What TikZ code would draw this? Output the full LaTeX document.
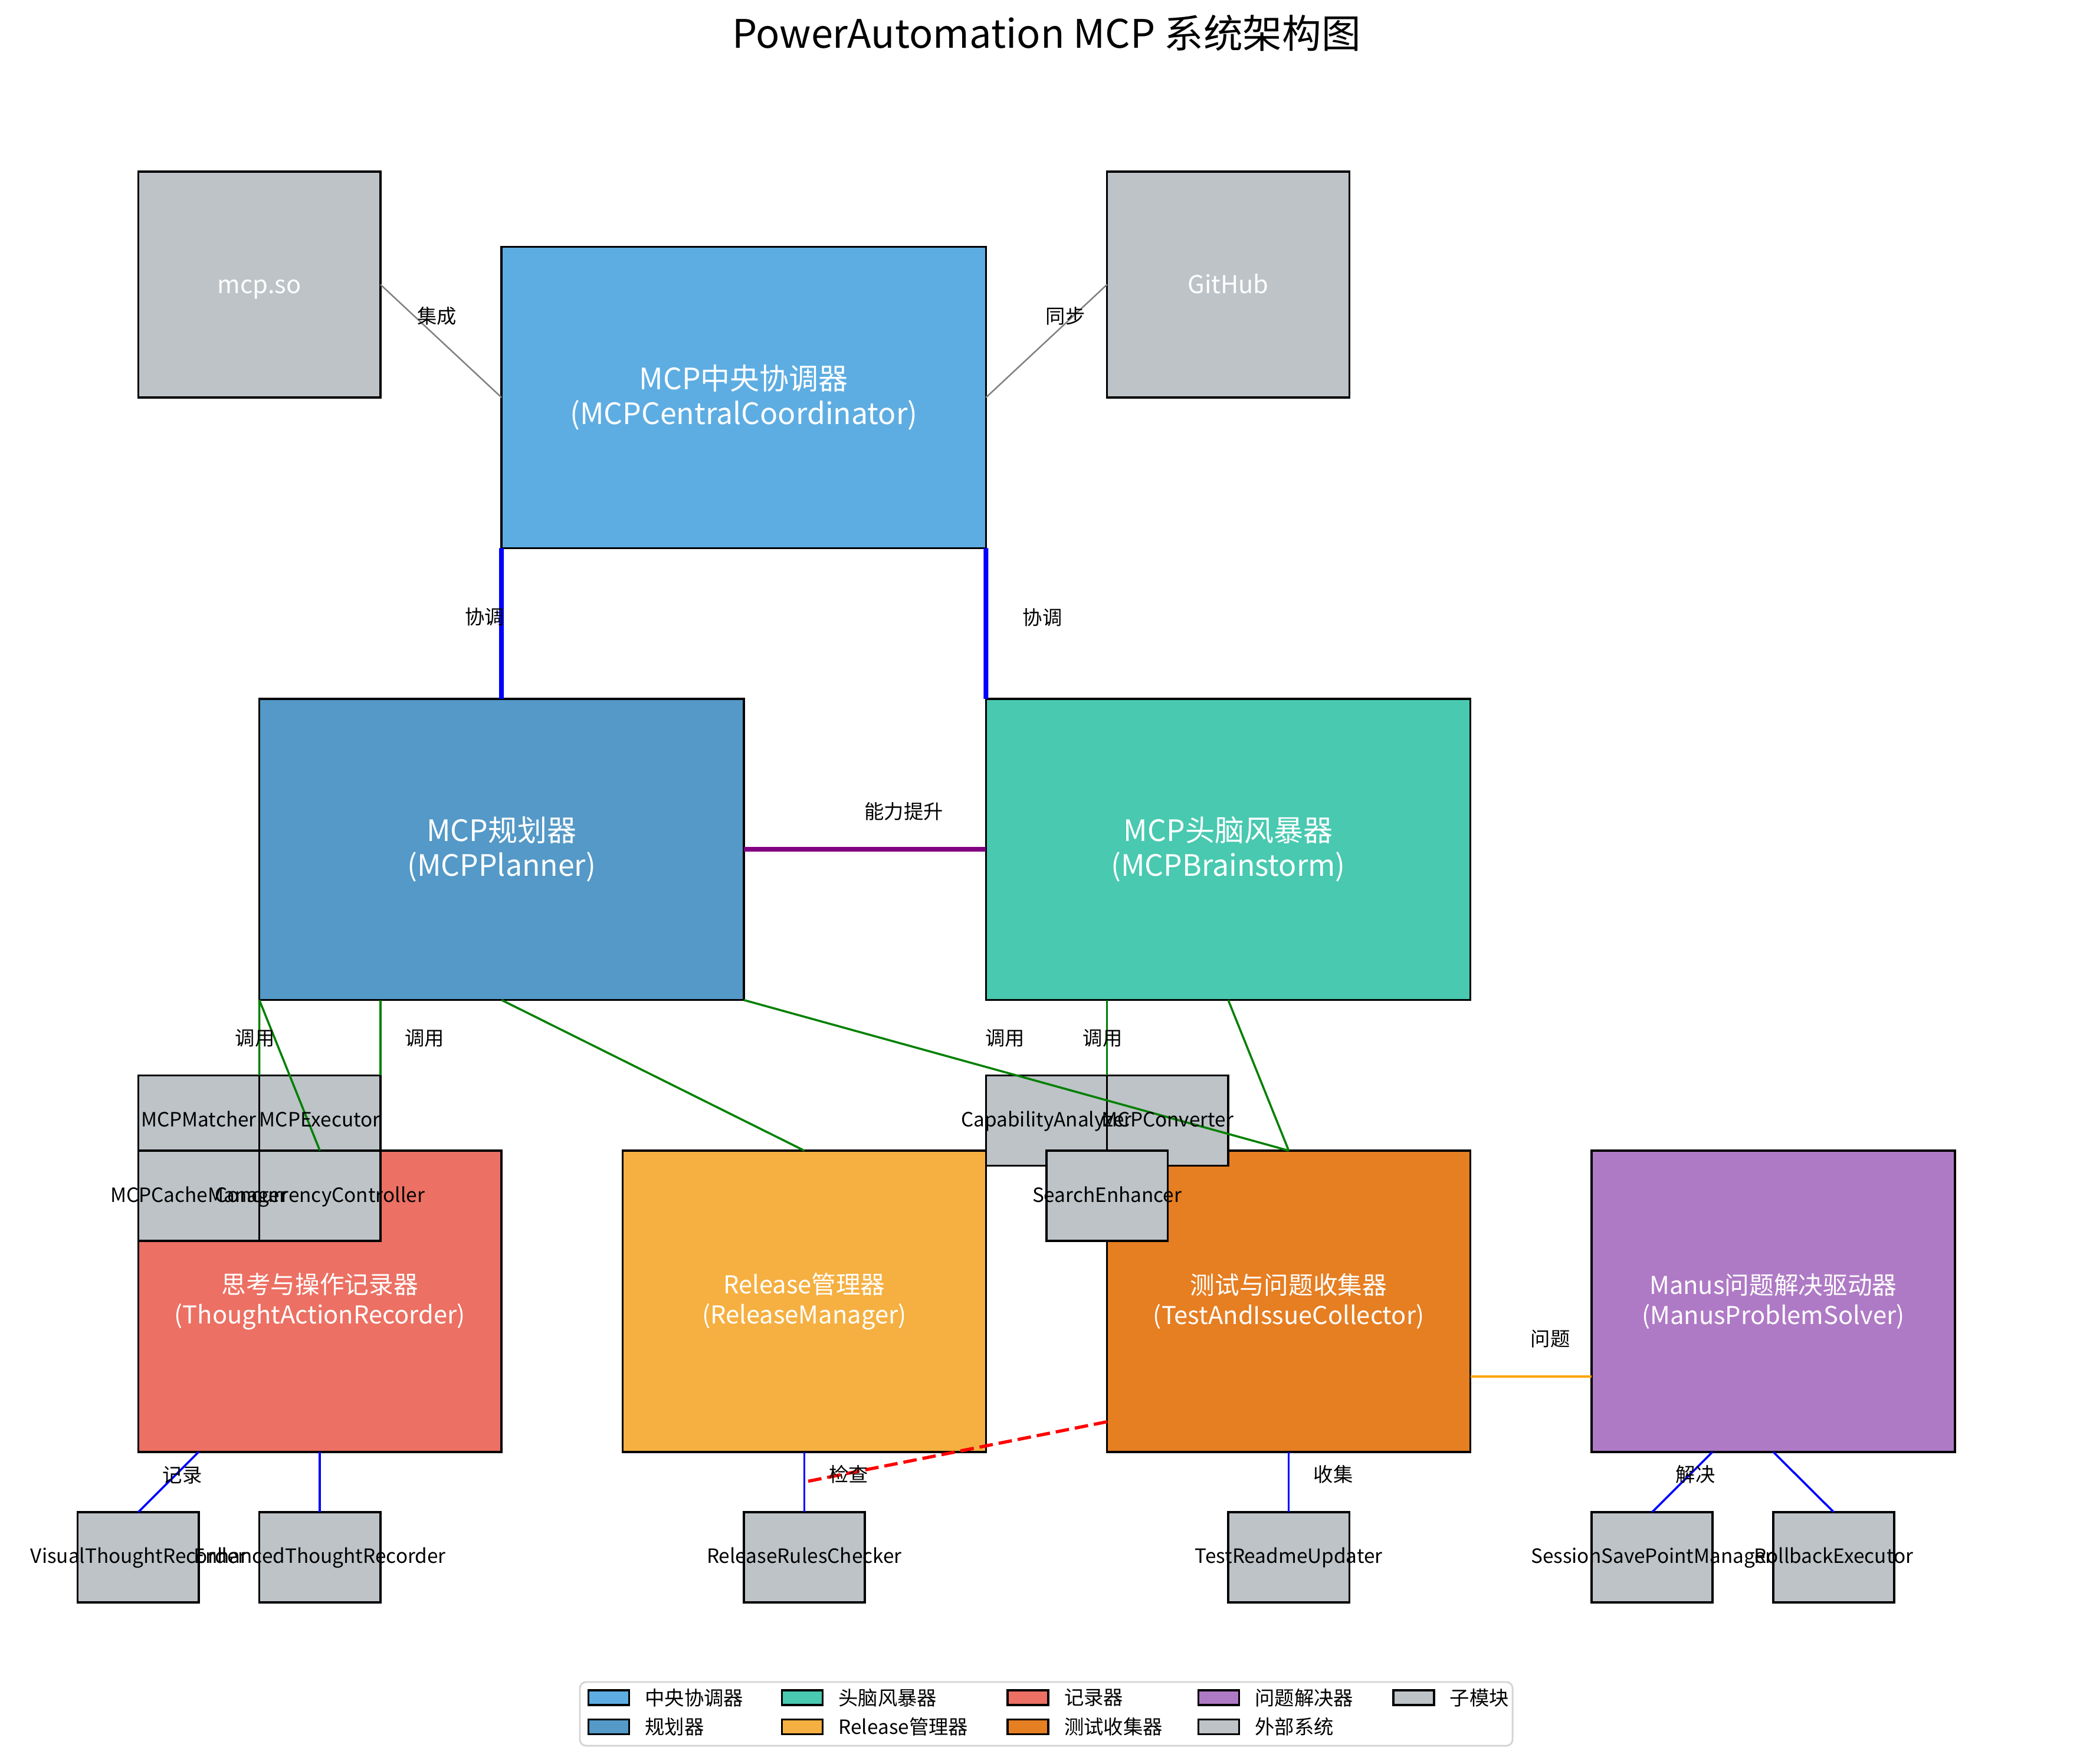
\documentclass[tikz,border=0pt]{standalone}
\usepackage{fontspec}
\setmainfont{Noto Sans CJK SC}
\usetikzlibrary{calc}
\definecolor{ccentral}{HTML}{5DADE2}
\definecolor{cplanner}{HTML}{5499C7}
\definecolor{cbrain}{HTML}{48C9B0}
\definecolor{crecorder}{HTML}{EC7063}
\definecolor{crelease}{HTML}{F5B041}
\definecolor{ctest}{HTML}{E67E22}
\definecolor{cmanus}{HTML}{AF7AC5}
\definecolor{cgray}{HTML}{BDC3C7}
\definecolor{lgreen}{HTML}{008000}
\definecolor{lblue}{HTML}{0000FF}
\definecolor{lpurple}{HTML}{800080}
\definecolor{lorange}{HTML}{FFA500}
\definecolor{lgray}{HTML}{808080}
\definecolor{lred}{HTML}{FF0000}
\definecolor{legedge}{HTML}{D4D4D4}
\begin{document}
\begin{tikzpicture}[x=49.272pt,y=61.296pt,
  box/.style={draw=black,line width=0.85pt,rectangle,inner sep=0pt,outer sep=0pt},
  mainbox/.style={box,minimum width=197.088pt,minimum height=122.592pt},
  lowbox/.style={box,minimum width=147.816pt,minimum height=122.592pt},
  extbox/.style={box,fill=cgray,minimum width=98.544pt,minimum height=91.944pt},
  subbox/.style={box,fill=cgray,minimum width=49.272pt,minimum height=36.7776pt},
  maintxt/.style={text=white,align=center,inner sep=0pt,font=\fontsize{12}{14.2}\selectfont},
  lowtxt/.style={text=white,align=center,inner sep=0pt,font=\fontsize{10}{12.2}\selectfont},
  exttxt/.style={text=white,inner sep=0pt,text height=0.8em,text depth=0.1em,font=\fontsize{10}{12}\selectfont},
  subtxt/.style={text=black,inner sep=0pt,text height=0.7em,text depth=0.2em,font=\fontsize{8}{9.6}\selectfont},
  lbl/.style={text=black,inner sep=0pt,font=\fontsize{8}{9.6}\selectfont},
  conn/.style={line width=0.85pt},
  thickconn/.style={line width=1.9pt},
  legpatch/.style={draw=black,line width=0.85pt,rectangle,inner sep=0pt,minimum width=16.56pt,minimum height=6pt,anchor=west},
  legtxt/.style={text=black,inner sep=0pt,anchor=west,font=\fontsize{8}{9.6}\selectfont}
]
\useasboundingbox (-0.1413,-1.072) rectangle (17.141,10.639);

% title
\node[inner sep=0pt,anchor=base,font=\fontsize{16}{19}\selectfont] (title) at (8.5,10.318) {PowerAutomation MCP 系统架构图};

% main boxes
\node[mainbox,fill=ccentral] (central) at (6,8) {};
\node[extbox] (mcpso) at (2,8.75) {};
\node[extbox] (github) at (10,8.75) {};
\node[mainbox,fill=cplanner] (planner) at (4,5) {};
\node[mainbox,fill=cbrain] (brain) at (10,5) {};
\node[lowbox,fill=crecorder] (recorder) at (2.5,2) {};
\node[lowbox,fill=crelease] (release) at (6.5,2) {};
\node[lowbox,fill=ctest] (test) at (10.5,2) {};
\node[lowbox,fill=cmanus] (manus) at (14.5,2) {};

% submodules
\node[subbox] (matcher) at (1.5,3.2) {};
\node[subbox] (executor) at (2.5,3.2) {};
\node[subbox] (cache) at (1.5,2.7) {};
\node[subbox] (concur) at (2.5,2.7) {};
\node[subbox] (capab) at (8.5,3.2) {};
\node[subbox] (conv) at (9.5,3.2) {};
\node[subbox] (search) at (9,2.7) {};
\node[subbox] (visual) at (1,0.3) {};
\node[subbox] (enhanced) at (2.5,0.3) {};
\node[subbox] (checker) at (6.5,0.3) {};
\node[subbox] (readme) at (10.5,0.3) {};
\node[subbox] (session) at (13.5,0.3) {};
\node[subbox] (rollback) at (15,0.3) {};

% connectors
\draw[conn,lgray,line width=0.6pt] (mcpso.east) -- (central.west);
\draw[conn,lgray,line width=0.6pt] (github.west) -- (central.east);
\draw[thickconn,lblue] (central.south west) -- (planner.north);
\draw[thickconn,lblue] (central.south east) -- (brain.north west);
\draw[thickconn,lpurple] (planner.east) -- (brain.west);
\draw[conn,lgreen] (planner.south west) -- (executor.north west);
\draw[conn,lgreen] (planner.south west) -- (concur.north);
\draw[conn,lgreen] (executor.north east |- planner.south) -- (executor.north east);
\draw[conn,lgreen] (planner.south) -- (release.north);
\draw[conn,lgreen] (planner.south east) -- (test.north);
\draw[conn,lgreen] (conv.north west |- brain.south) -- (conv.north west);
\draw[conn,lgreen] (brain.south) -- (test.north);
\draw[conn,lblue] (visual.north east |- recorder.south) -- (visual.north);
\draw[conn,lblue] (recorder.south) -- (enhanced.north);
\draw[conn,lblue] (release.south) -- (checker.north);
\draw[conn,lblue] (test.south) -- (readme.north);
\draw[conn,lblue] (session.north east |- manus.south) -- (session.north);
\draw[conn,lblue] (rollback.north west |- manus.south) -- (rollback.north);
\draw[conn,lorange] ([yshift=-30.648pt]test.east) -- ([yshift=-30.648pt]manus.west);
\draw[lred,line width=1.3pt,dash pattern=on 5.5pt off 2.4pt] ([yshift=-49.037pt]test.west) -- ($(release.south)!0.5!(checker.north)$);

% box texts
\node[maintxt] (t-central) at (central) {MCP中央协调器\\(MCPCentralCoordinator)};
\node[maintxt] (t-planner) at (planner) {MCP规划器\\(MCPPlanner)};
\node[maintxt] (t-brain) at (brain) {MCP头脑风暴器\\(MCPBrainstorm)};
\node[lowtxt] (t-recorder) at (recorder) {思考与操作记录器\\(ThoughtActionRecorder)};
\node[lowtxt] (t-release) at (release) {Release管理器\\(ReleaseManager)};
\node[lowtxt] (t-test) at (test) {测试与问题收集器\\(TestAndIssueCollector)};
\node[lowtxt] (t-manus) at (manus) {Manus问题解决驱动器\\(ManusProblemSolver)};
\node[exttxt] (t-mcpso) at (mcpso) {mcp.so};
\node[exttxt] (t-github) at (github) {GitHub};

\node[subtxt] (t-matcher) at (matcher) {MCPMatcher};
\node[subtxt] (t-executor) at (executor) {MCPExecutor};
\node[subtxt] (t-cache) at (cache) {MCPCacheManager};
\node[subtxt] (t-concur) at (concur) {ConcurrencyController};
\node[subtxt] (t-capab) at (capab) {CapabilityAnalyzer};
\node[subtxt] (t-conv) at (conv) {MCPConverter};
\node[subtxt] (t-search) at (search) {SearchEnhancer};
\node[subtxt] (t-visual) at (visual) {VisualThoughtRecorder};
\node[subtxt] (t-enhanced) at (enhanced) {EnhancedThoughtRecorder};
\node[subtxt] (t-checker) at (checker) {ReleaseRulesChecker};
\node[subtxt] (t-readme) at (readme) {TestReadmeUpdater};
\node[subtxt] (t-session) at (session) {SessionSavePointManager};
\node[subtxt] (t-rollback) at (rollback) {RollbackExecutor};

% connector labels
\node[lbl] (l-jc) at (3.468,8.54) {集成};
\node[lbl] (l-tb) at (8.656,8.54) {同步};
\node[lbl] (l-xt1) at (3.861,6.545) {协调};
\node[lbl] (l-xt2) at (8.466,6.54) {协调};
\node[lbl] (l-nl) at (7.321,5.252) {能力提升};
\node[lbl] (l-dy1) at (1.963,3.746) {调用};
\node[lbl] (l-dy2) at (3.364,3.746) {调用};
\node[lbl] (l-dy3) at (8.158,3.746) {调用};
\node[lbl] (l-dy4) at (8.963,3.746) {调用};
\node[lbl] (l-jl) at (1.365,0.844) {记录};
\node[lbl] (l-jcha) at (6.867,0.85) {检查};
\node[lbl] (l-sj) at (10.867,0.85) {收集};
\node[lbl] (l-jj) at (13.859,0.85) {解决};
\node[lbl] (l-wt) at (12.66,1.75) {问题};

% legend
\draw[legedge,line width=0.7pt,fill=white,rounded corners=2.5pt] (4.647,-0.528) rectangle (12.348,-0.951);
\node[legpatch,fill=ccentral] (lp1) at (4.708,-0.632) {};
\node[legtxt] (lt1) at (5.181,-0.632) {中央协调器};
\node[legpatch,fill=cplanner] (lp2) at (4.708,-0.825) {};
\node[legtxt] (lt2) at (5.181,-0.825) {规划器};
\node[legpatch,fill=cbrain] (lp3) at (6.306,-0.632) {};
\node[legtxt] (lt3) at (6.779,-0.632) {头脑风暴器};
\node[legpatch,fill=crelease] (lp4) at (6.306,-0.825) {};
\node[legtxt] (lt4) at (6.779,-0.825) {Release管理器};
\node[legpatch,fill=crecorder] (lp5) at (8.169,-0.632) {};
\node[legtxt] (lt5) at (8.642,-0.632) {记录器};
\node[legpatch,fill=ctest] (lp6) at (8.169,-0.825) {};
\node[legtxt] (lt6) at (8.642,-0.825) {测试收集器};
\node[legpatch,fill=cmanus] (lp7) at (9.745,-0.632) {};
\node[legtxt] (lt7) at (10.218,-0.632) {问题解决器};
\node[legpatch,fill=cgray] (lp8) at (9.745,-0.825) {};
\node[legtxt] (lt8) at (10.218,-0.825) {外部系统};
\node[legpatch,fill=cgray] (lp9) at (11.354,-0.632) {};
\node[legtxt] (lt9) at (11.827,-0.632) {子模块};
\end{tikzpicture}
\end{document}
